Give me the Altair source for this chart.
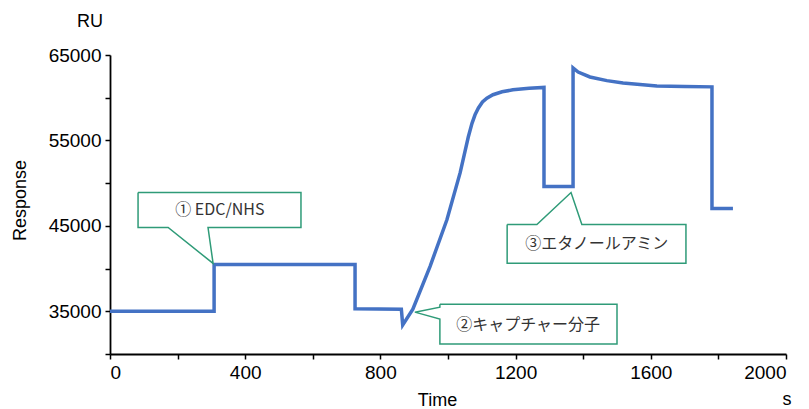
import altair as alt
import pandas as pd

# Sensorgram trace (time in s, response in RU)
times = [0, 308, 308, 725, 725, 862, 866, 896, 947, 997, 1036, 1060, 1071, 1080, 1090,
         1102, 1115, 1133, 1160, 1192, 1240, 1284, 1284, 1370, 1370, 1385, 1420, 1470,
         1518, 1618, 1700, 1781, 1781, 1843]
response = [35000, 35000, 40480, 40480, 35300, 35250, 33400, 35240, 40260, 45740, 51230,
            55400, 57000, 58000, 58800, 59500, 59950, 60350, 60700, 60920, 61100, 61200,
            49600, 49600, 63480, 63000, 62430, 62000, 61730, 61380, 61300, 61270, 47030,
            47030]

# Callout outlines (data coordinates)
callout_ids = ["c1"] * 8 + ["c2"] * 8 + ["c3"] * 8
callout_x = [83, 565, 565, 290, 305, 172, 83, 83,
             976, 1500, 1500, 976, 976, 902, 976, 976,
             1175, 1263, 1364, 1396, 1704, 1704, 1175, 1175]
callout_y = [48900, 48900, 44810, 44810, 40600, 44810, 44810, 48900,
             35830, 35830, 31160, 31160, 34080, 34900, 35480, 35830,
             45160, 45160, 48900, 45160, 45160, 40610, 40610, 45160]

label_text = ["① EDC/NHS", "②キャプチャー分子", "③エタノールアミン"]
label_x = [325, 1237, 1440]
label_y = [46850, 33450, 42880]

BLUE = "#4472C4"
TEAL = "#2F9B78"

trace = pd.DataFrame({"t": times, "r": response, "i": range(len(times))})
callouts = pd.DataFrame({"id": callout_ids, "x": callout_x, "y": callout_y,
                         "i": range(len(callout_x))})
labels = pd.DataFrame({"text": label_text, "x": label_x, "y": label_y})
units = pd.DataFrame({"text": ["RU", "s"]})

xscale = alt.Scale(domain=[0, 2000], nice=False, zero=False)
yscale = alt.Scale(domain=[30000, 65000], nice=False, zero=False)

xaxis = alt.Axis(values=list(range(0, 2001, 100)), format="d",
                 labelExpr="datum.value % 400 == 0 ? datum.label : ''",
                 title="Time", titleX=327, titleY=46, titleBaseline="middle",
                 titleFontSize=18, titleFontWeight="normal", labelPadding=4)
yaxis = alt.Axis(values=list(range(30000, 65001, 2500)), format="d",
                 labelExpr="datum.value % 10000 == 5000 ? datum.label : ''",
                 title="Response", titleX=-90, titleY=145, titleAngle=-90,
                 titleAlign="center", titleBaseline="middle",
                 titleFontSize=18, titleFontWeight="normal", labelPadding=4)

line = alt.Chart(trace).mark_line(color=BLUE, strokeWidth=3.5, strokeJoin="miter").encode(
    x=alt.X("t:Q", scale=xscale, axis=xaxis),
    y=alt.Y("r:Q", scale=yscale, axis=yaxis),
    order="i:Q",
)

boxes = alt.Chart(callouts).mark_line(color=TEAL, strokeWidth=1.5, strokeJoin="miter").encode(
    x=alt.X("x:Q", scale=xscale),
    y=alt.Y("y:Q", scale=yscale),
    detail="id:N",
    order="i:Q",
)

texts = alt.Chart(labels).mark_text(font="Noto Sans CJK JP", fontSize=16, color="#333333",
                                    align="center", baseline="middle").encode(
    x=alt.X("x:Q", scale=xscale),
    y=alt.Y("y:Q", scale=yscale),
    text="text:N",
)

ru = alt.Chart(units.iloc[[0]]).mark_text(font="Liberation Sans", fontSize=18,
                                           color="black", align="right",
                                           baseline="middle").encode(
    x=alt.value(-7), y=alt.value(-33), text="text:N")
s_lab = alt.Chart(units.iloc[[1]]).mark_text(font="Liberation Sans", fontSize=18,
                                              color="black", align="center",
                                              baseline="middle").encode(
    x=alt.value(677), y=alt.value(345), text="text:N")

chart = alt.layer(line, boxes, texts, ru, s_lab).properties(
    width=676, height=299,
    autosize=alt.AutoSizeParams(type="none"),
    padding={"left": 102, "top": 47, "right": 15, "bottom": 55},
).configure_view(stroke=None).configure_axis(
    grid=False, domainColor="black", domainWidth=1.8, tickColor="black",
    tickWidth=1.5, tickSize=5, labelFont="Liberation Sans", labelFontSize=19,
    labelColor="black", titleFont="Liberation Sans", titleColor="black",
)

chart.save("out.html", embed_options={"renderer": "svg", "actions": False})
